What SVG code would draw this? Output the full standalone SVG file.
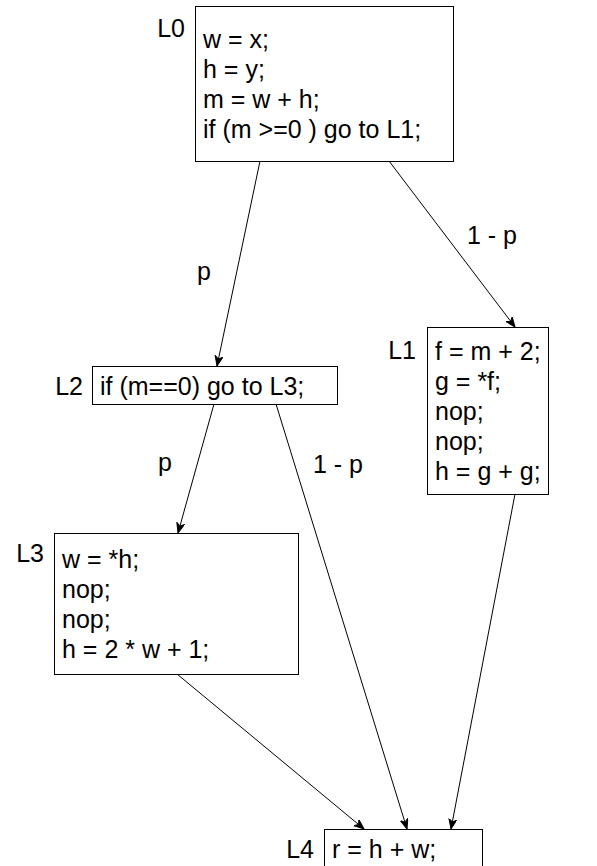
<svg xmlns="http://www.w3.org/2000/svg" width="597" height="866" viewBox="0 0 597 866">
<style>
  .box { fill: #ffffff; stroke: #000000; stroke-width: 1; }
  .t { font-family: "Liberation Sans", Arial, sans-serif; font-size: 25px; fill: #000000; }
  .lbl { font-family: "Liberation Sans", Arial, sans-serif; font-size: 25px; fill: #000000; text-anchor: end; }
  .edge { stroke: #000000; stroke-width: 1; fill: none; marker-end: url(#arrow); }
</style>
<defs>
  <marker id="arrow" markerUnits="userSpaceOnUse" markerWidth="12" markerHeight="10" refX="10" refY="4" orient="auto">
    <path d="M0,0 L10,4 L0,8 L3,4 Z" fill="#000000" stroke="#000000" stroke-width="1"/>
  </marker>
</defs>
<rect width="597" height="866" fill="#ffffff"/>
<g id="connectors">
  <line class="edge" x1="260" y1="161" x2="217" y2="366"/>
  <line class="edge" x1="389" y1="161" x2="515" y2="327"/>
  <line class="edge" x1="214" y1="404" x2="178" y2="533"/>
  <line class="edge" x1="276" y1="404" x2="407" y2="829"/>
  <line class="edge" x1="515" y1="494" x2="451" y2="829"/>
  <line class="edge" x1="177" y1="674" x2="364" y2="829"/>
  <text class="t" x="197" y="280">p</text>
  <text class="t" x="467" y="244">1 - p</text>
  <text class="t" x="158" y="471">p</text>
  <text class="t" x="313" y="473">1 - p</text>
</g>
<g id="L0">
  <rect class="box" x="195.5" y="6.5" width="258" height="155"/>
  <text class="lbl" x="185" y="37">L0</text>
  <text class="t" x="203" y="48">w = x;</text>
  <text class="t" x="203" y="78">h = y;</text>
  <text class="t" x="203" y="108">m = w + h;</text>
  <text class="t" x="203" y="138">if (m &gt;=0 ) go to L1;</text>
</g>
<g id="L1">
  <rect class="box" x="427.5" y="327.5" width="121" height="167"/>
  <text class="lbl" x="416" y="359">L1</text>
  <text class="t" x="435" y="360">f = m + 2;</text>
  <text class="t" x="435" y="390">g = *f;</text>
  <text class="t" x="435" y="420">nop;</text>
  <text class="t" x="435" y="450">nop;</text>
  <text class="t" x="435" y="480">h = g + g;</text>
</g>
<g id="L2">
  <rect class="box" x="92.5" y="366.5" width="245" height="38"/>
  <text class="lbl" x="83" y="395">L2</text>
  <text class="t" x="100" y="395">if (m==0) go to L3;</text>
</g>
<g id="L3">
  <rect class="box" x="54.5" y="533.5" width="244" height="141"/>
  <text class="lbl" x="44" y="562">L3</text>
  <text class="t" x="62" y="568">w = *h;</text>
  <text class="t" x="62" y="598">nop;</text>
  <text class="t" x="62" y="628">nop;</text>
  <text class="t" x="62" y="658">h = 2 * w + 1;</text>
</g>
<g id="L4">
  <rect class="box" x="324.5" y="829.5" width="158" height="38"/>
  <text class="lbl" x="314" y="858">L4</text>
  <text class="t" x="332" y="858">r = h + w;</text>
</g>
</svg>
